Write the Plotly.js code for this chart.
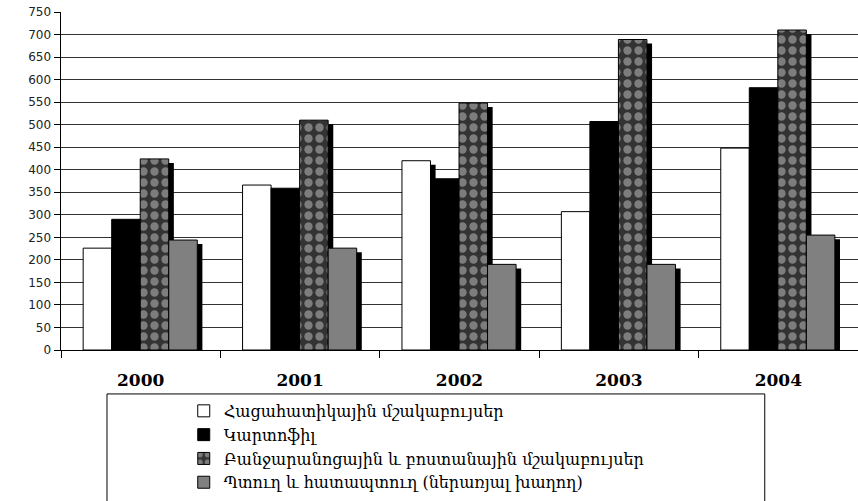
<!DOCTYPE html>
<html><head><meta charset="utf-8">
<script src="https://cdn.plot.ly/plotly-3.0.1.min.js"></script>
<style>html,body{margin:0;padding:0;background:#fff}</style>
</head><body><div id="chart" style="width:858px;height:501px"></div>
<script>
const years = ['2000','2001','2002','2003','2004'];
const seriesNames = [
  'Հացահատիկային մշակաբույսեր',
  'Կարտոֆիլ',
  'Բանջարանոցային և բոստանային մշակաբույսեր',
  'Պտուղ և հատապտուղ (ներառյալ խաղող)'
];
const cereals    = [226, 366, 420, 307, 448];
const potatoes   = [290, 359, 380, 507, 582];
const vegetables = [424, 510, 548, 689, 710];
const fruits     = [244, 226, 190, 190, 255];
const yTicks = [0,50,100,150,200,250,300,350,400,450,500,550,600,650,700,750];

const allValues = [cereals, potatoes, vegetables, fruits];
const styles = [
  {color:'#ffffff', line:{color:'#000', width:1}},
  {color:'#000000', line:{color:'#000', width:1}},
  {color:'#333333', line:{color:'#000', width:1},
   pattern:{shape:'.', bgcolor:'#333333', fgcolor:'#c8c8c8', size:11, solidity:0.45, fillmode:'overlay'}},
  {color:'#808080', line:{color:'#000', width:1}}
];
const barW = 0.179;
const offsets = [-0.361, -0.182, -0.003, 0.176];
const traces = [];
allValues.forEach((vals, i) => {
  traces.push({type:'bar', x:years, y:vals, base:-9, width:barW, offset:offsets[i]+0.032,
    marker:{color:'#000'}, showlegend:false, hoverinfo:'skip'});
  traces.push({type:'bar', name:seriesNames[i], x:years, y:vals, width:barW, offset:offsets[i],
    marker:styles[i]});
});

const layout = {
  width:858, height:501,
  margin:{l:61, r:0, t:12, b:151, autoexpand:false},
  paper_bgcolor:'#fff', plot_bgcolor:'#fff',
  barmode:'overlay',
  showlegend:true,
  xaxis:{type:'category', tickson:'boundaries', ticks:'outside', ticklen:7, tickcolor:'#000',
    showline:true, linecolor:'#000', linewidth:1, showgrid:false, ticklabelstandoff:15,
    automargin:false,
    tickfont:{family:'DejaVu Serif', size:17, color:'#000', weight:'bold'}},
  yaxis:{range:[0,750], tickvals:yTicks, ticks:'outside', ticklen:6, tickcolor:'#000',
    showline:true, linecolor:'#000', linewidth:1.5, automargin:false,
    gridcolor:'#333', gridwidth:1, zeroline:false,
    tickfont:{family:'DejaVu Sans', size:12, color:'#222'}},
  legend:{x:0.154, y:-0.13, xanchor:'left', yanchor:'top', orientation:'v',
    bgcolor:'rgba(0,0,0,0)', borderwidth:0, tracegroupgap:0, itemwidth:30,
    font:{family:'DejaVu Serif', size:16, color:'#000'}},
  shapes:[{type:'rect', xref:'paper', yref:'paper', x0:0.0577, x1:0.883, y0:-0.47, y1:-0.130,
    line:{color:'#000', width:1}, fillcolor:'rgba(0,0,0,0)', layer:'below'}]
};
Plotly.newPlot('chart', traces, layout, {displayModeBar:false, staticPlot:true});
</script></body></html>
